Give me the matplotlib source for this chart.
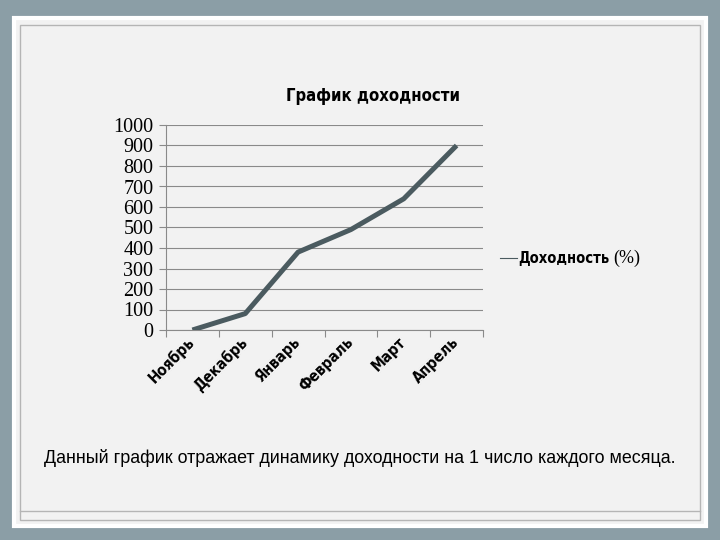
import matplotlib
matplotlib.use("Agg")
import matplotlib.pyplot as plt
from matplotlib.patches import Rectangle
from matplotlib.lines import Line2D

months = ["Ноябрь", "Декабрь", "Январь", "Февраль", "Март", "Апрель"]
values = [0, 80, 380, 490, 640, 900]
yticks = [0, 100, 200, 300, 400, 500, 600, 700, 800, 900, 1000]
title = "График доходности"
series_word = "Доходность"
series_unit = "(%)"
caption = "Данный график отражает динамику доходности на 1 число каждого месяца."

W, H = 720, 540
fig = plt.figure(figsize=(7.2, 5.4), dpi=100)
fig.patch.set_facecolor("#8b9ea6")

def px(x, y, w, h):
    return (x / W, 1 - (y + h) / H, w / W, h / H)

# slide panel
x0, y0, w0, h0 = px(14, 18, 692, 508)
fig.add_artist(Rectangle((x0, y0), w0, h0, transform=fig.transFigure,
                         facecolor="#f2f2f2", edgecolor="white", lw=3, zorder=0))
x1, y1, w1, h1 = px(20, 25, 680, 495)
fig.add_artist(Rectangle((x1, y1), w1, h1, transform=fig.transFigure,
                         facecolor="none", edgecolor="#b5b5b5", lw=1, zorder=1))
fig.add_artist(Line2D([20 / W, 700 / W], [1 - 511 / H, 1 - 511 / H],
                      transform=fig.transFigure, color="#b5b5b5", lw=1, zorder=1))

narrow = dict(family="DejaVu Sans", fontstretch="condensed", fontweight="bold")

ax = fig.add_axes(px(166, 125, 317, 205))
ax.set_facecolor("none")
n = len(months)
xs = [i + 0.5 for i in range(n)]
ax.plot(xs, values, color="#4b5b60", lw=3.6, solid_capstyle="butt", zorder=3)
ax.set_xlim(0, n)
ax.set_ylim(0, 1000)
ax.set_yticks(yticks)
ax.set_yticklabels([str(v) for v in yticks], family="Liberation Serif",
                   fontsize=14.5)
ax.grid(axis="y", color="#8a8a8a", lw=0.8)
ax.set_axisbelow(True)
ax.set_xticks(range(n + 1))
ax.set_xticklabels([])
ax.set_xticks(xs, minor=True)
ax.set_xticklabels(months, minor=True, rotation=45, ha="right", va="center",
                   rotation_mode="anchor", fontsize=11, **narrow)
ax.tick_params(axis="x", which="major", length=5, color="#8a8a8a", direction="out")
ax.tick_params(axis="x", which="minor", length=0, pad=7)
ax.tick_params(axis="y", length=5, color="#8a8a8a", pad=4)
for s in ("top", "right"):
    ax.spines[s].set_visible(False)
for s in ("left", "bottom"):
    ax.spines[s].set_color("#8a8a8a")
    ax.spines[s].set_linewidth(0.8)

fig.text(373 / W, 1 - 96 / H, title, ha="center", va="center",
         fontsize=12, **narrow)

# legend
ly = 1 - 258 / H
fig.add_artist(Line2D([500 / W, 517 / W], [ly, ly], transform=fig.transFigure,
                      color="#4b5b60", lw=0.8))
t1 = fig.text(518 / W, ly, series_word, ha="left", va="center",
              fontsize=10.5, **narrow)
fig.add_artist(plt.Annotation(series_unit, xy=(1, 0.5), xycoords=t1,
                              xytext=(3, 0), textcoords="offset points",
                              ha="left", va="center",
                              family="Liberation Serif", fontsize=13))

fig.text(360 / W, 1 - 458 / H, caption, ha="center", va="center",
         family="Liberation Sans", fontsize=12.9)

fig.savefig("out.png", dpi=100, facecolor=fig.get_facecolor())
